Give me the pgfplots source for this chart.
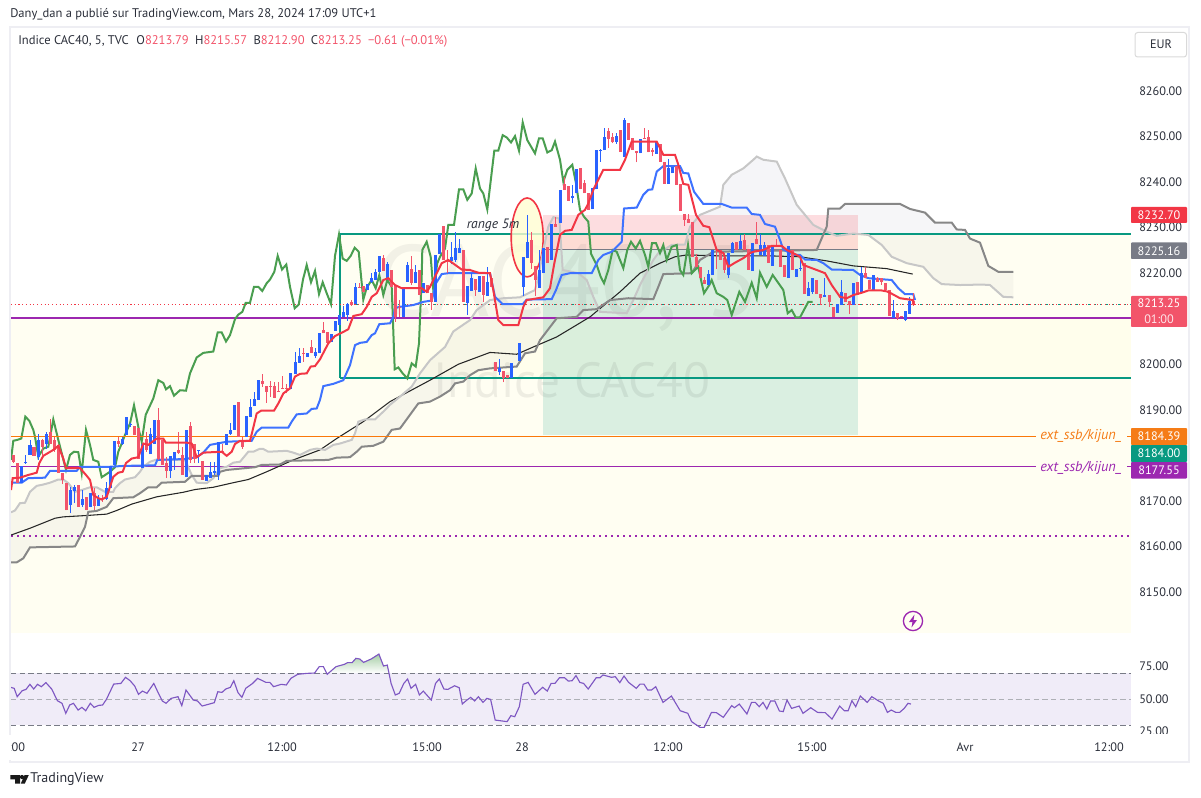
\documentclass[border=0pt]{standalone}
\usepackage{fontspec}
\setmainfont{PT Sans}
\usepackage{pgfplots}
\usepackage{pgfplotstable}
\pgfplotsset{compat=1.18}
\usepgfplotslibrary{fillbetween}
\definecolor{cblue}{HTML}{2962FF}
\definecolor{cred}{HTML}{F23645}
\definecolor{cbar}{HTML}{F2546A}
\definecolor{cgreen}{HTML}{4A9E50}
\definecolor{cteal}{HTML}{089981}
\definecolor{cpurple}{HTML}{9C27B0}
\definecolor{corange}{HTML}{F57C17}
\definecolor{ssbline}{RGB}{250,120,10}
\definecolor{cgray}{HTML}{787B86}
\definecolor{cframe}{HTML}{EEEEF3}
\definecolor{crsi}{HTML}{7E57C2}
\definecolor{clav}{HTML}{F0ECF8}
\definecolor{ctext}{HTML}{2A2E39}
\definecolor{cbeige}{HTML}{555070}
\definecolor{cslate}{HTML}{505078}
\pgfplotstableread{
x lo bl bh hi
21.3 8173.9 8173.9 8177.7 8177.7
25.3 8178.2 8178.3 8178.6 8180.1
30 8180.1 8180.1 8182.3 8183.4
38.3 8179 8179.7 8183.4 8184.8
46.7 8181.5 8182.6 8184.8 8185.2
70.3 8167.3 8169.1 8172.4 8173.1
74.3 8169.5 8172.2 8173.1 8173.5
82.3 8168.7 8169.1 8170.4 8172.4
90.3 8168.6 8168.7 8171.7 8171.8
98.3 8168.9 8168.9 8170.6 8171.3
106.3 8170.2 8170.4 8172.8 8174.2
110.3 8172.8 8172.8 8177.7 8177.7
114.3 8177.9 8177.9 8183.2 8183.2
122.3 8182.3 8182.6 8183.7 8184.1
126.3 8184.5 8184.5 8188.5 8188.5
130.3 8186.3 8186.7 8186.9 8187.2
142.3 8177.2 8177.2 8182.5 8182.5
150.3 8180.3 8180.3 8184.8 8185.9
154.3 8182.6 8182.6 8187.8 8187.8
170.3 8175 8176.6 8179.9 8179.9
174.3 8176.8 8179.1 8180.8 8180.8
186.3 8175.2 8175.2 8185.6 8185.6
198.3 8178.3 8181 8181.2 8181.2
206.3 8174.4 8174.4 8175.8 8175.8
210.3 8175.1 8175.1 8176.4 8178.6
214.3 8175.7 8176.1 8176.6 8178.6
218.3 8174.7 8175.7 8183 8183
226.3 8182.3 8182.3 8184.8 8184.8
230.3 8184.5 8184.8 8185.6 8187
234.3 8185.6 8185.6 8191 8191
246.3 8184.1 8184.1 8188.6 8188.6
250.3 8188.5 8188.5 8190.7 8192.3
254.3 8190.8 8190.8 8192.4 8194
258.3 8192.2 8192.2 8196.5 8196.5
290.3 8194.5 8194.5 8198 8198
295.3 8197.8 8197.8 8200.4 8202.6
299.3 8200.3 8200.3 8201.8 8203.5
307.3 8201.6 8201.6 8202.4 8202.4
315.3 8201.3 8201.8 8202.7 8203.5
319.3 8202.4 8202.4 8206.9 8206.9
331.3 8205 8205 8206.6 8206.6
335.3 8207.4 8207.4 8209.5 8209.5
339.3 8208.6 8208.6 8210.9 8210.9
343.3 8210.3 8210.3 8211.5 8212.8
347.3 8209.6 8210.8 8213.3 8213.5
355.3 8213.2 8213.2 8217 8217.8
367.3 8216.3 8216.3 8217.6 8217.6
371.3 8217.8 8218.1 8218.9 8220.1
375.3 8218.5 8218.5 8220.3 8221
379.3 8220.3 8220.3 8223.8 8223.8
387.3 8218.5 8218.9 8222 8222.5
403.3 8210.4 8210.4 8216.7 8216.7
407.3 8218.1 8218.1 8221.8 8222.5
415.3 8217.8 8217.8 8220.3 8221.8
423.3 8215.6 8215.6 8217.8 8217.8
435.3 8213.7 8213.7 8224 8224
439.3 8224.2 8224.2 8228.6 8228.6
451.3 8222 8222.7 8223.6 8226.9
455.3 8222.5 8222.9 8225.6 8229.1
459.3 8224.4 8224.4 8225.5 8227.6
467.3 8210.8 8213.4 8217.2 8217.2
471.3 8216.1 8216.1 8218.9 8220
479.3 8215.9 8215.9 8219.4 8219.4
487.3 8215 8215 8218.1 8221.4
499.3 8197.6 8198.2 8199.1 8201.1
511.3 8197 8197 8200.2 8200.2
519.3 8200.8 8200.8 8204.6 8204.6
523.3 8215 8217 8223.6 8223.6
527.3 8223.3 8223.3 8226.9 8232.8
539.3 8216.8 8216.8 8220.6 8225.1
543.3 8220 8220 8225.5 8225.5
551.3 8222.9 8222.9 8230.9 8230.9
560.3 8231 8231 8238.3 8238.3
572.3 8235.3 8236.4 8236.9 8239.4
576.3 8237.5 8237.5 8242.8 8242.8
592.3 8234 8234 8238.6 8238.6
596.3 8238.4 8238.4 8247 8247
600.3 8244.5 8246.8 8247 8247.2
604.3 8247 8247 8250 8251.8
616.3 8248.4 8248.7 8250.1 8250.7
624.3 8245.6 8245.6 8253.6 8254
640.3 8246.3 8246.3 8249.4 8249.4
656.3 8246.2 8246.2 8248.9 8248.9
668.7 8239.6 8239.6 8243 8245
672.7 8241.9 8241.9 8243.4 8243.4
708.7 8217.4 8217.4 8219.8 8220.8
712.7 8219.6 8219.6 8225.1 8225.1
728.7 8218.9 8219.5 8224.4 8224.4
732.7 8224.4 8224.4 8226.6 8226.9
740.7 8225.2 8225.2 8227 8228.4
752.7 8220.5 8220.5 8226.6 8226.6
760.7 8224 8224 8226.2 8228.6
764.7 8223.8 8223.8 8226.2 8226.9
772.7 8221.6 8221.6 8226 8226
788.7 8218.9 8218.9 8226 8226
796.7 8219.2 8219.2 8221 8221
800.7 8220.5 8221 8221.2 8223.6
808.7 8215 8215 8216.8 8218
812.7 8215.5 8215.9 8218.9 8218.9
824.7 8214.8 8214.8 8215.2 8218.9
837.3 8211.3 8211.3 8213.2 8213.2
841.3 8213 8213 8215.9 8218.5
853.3 8213 8213 8217.8 8217.8
861.3 8215.6 8215.6 8220.1 8221.4
873.3 8216.3 8216.3 8219.6 8219.6
893.3 8210.2 8210.2 8211.7 8214.1
905.3 8209.5 8209.7 8211.7 8211.7
909.3 8211 8211 8213.9 8214.8
}\tUp
\pgfplotstableread{
x lo bl bh hi
13.3 8178.3 8178.6 8180.1 8180.1
17.3 8173.9 8173.9 8178.3 8178.3
34 8179.9 8179.9 8181.9 8181.9
42.3 8180.1 8181.9 8183.4 8183.7
50.7 8182.6 8182.6 8185.2 8187.9
54.3 8180.8 8181.2 8183.4 8184.1
58.7 8176.1 8176.1 8182.3 8182.3
62.3 8173.7 8174.6 8176.1 8176.1
66.3 8167.9 8167.9 8173.9 8173.9
78.3 8168.7 8168.7 8173.5 8173.5
86.3 8167.9 8168 8170.8 8170.9
94.3 8168 8168.9 8171.7 8172.8
102.3 8169.8 8170.4 8170.6 8171.3
118.3 8181.9 8182.6 8183.2 8184.1
134.3 8184.5 8184.5 8186.5 8186.5
138.3 8179.3 8179.3 8186.1 8186.1
146.3 8180.8 8181.2 8183.7 8185.2
158.3 8179 8179.3 8187.8 8190.3
162.3 8177.9 8177.9 8183.4 8183.4
166.3 8175 8176.6 8178.3 8179.7
178.3 8180.4 8180.6 8181.2 8185.2
182.3 8175.7 8175.7 8180.1 8181.9
190.3 8178.3 8179 8186.5 8187.4
194.3 8178.3 8179.3 8182.6 8182.6
202.3 8174.6 8174.6 8178.8 8178.8
222.3 8180.8 8180.8 8181 8182.6
238.3 8184.1 8184.1 8191.8 8191.8
242.3 8181.5 8181.9 8183 8184.1
262.3 8195.1 8195.6 8196.3 8197.8
266.3 8191.6 8194 8195.2 8195.2
270.3 8192.9 8195 8195.2 8196.3
274.3 8192.5 8192.7 8195.2 8196.2
278.3 8194 8194 8194.2 8196.2
282.3 8194.5 8194.6 8194.8 8197.4
286.3 8193.6 8194.6 8194.8 8195.6
303.3 8200.6 8202.3 8202.5 8203.5
311.3 8202.4 8202.5 8203.7 8205.3
323.3 8206.8 8206.8 8207.6 8209.3
327.3 8204.7 8204.7 8207 8207
351.3 8212.8 8213 8213.7 8214.2
359.3 8216.8 8216.8 8217 8217.8
363.3 8215.9 8215.9 8217.2 8217.2
383.3 8220.5 8220.5 8223.4 8224
391.3 8217 8217 8220.8 8220.8
395.3 8209.3 8210.4 8217.4 8217.4
399.3 8210.3 8212.5 8212.6 8214.1
411.3 8217.4 8217.8 8221 8223.8
419.3 8215.2 8215.2 8220.7 8220.7
427.3 8215.7 8215.7 8217.4 8217.4
431.3 8212 8213.7 8215.7 8215.7
443.3 8222.9 8222.9 8230.4 8230.4
447.3 8220 8222.5 8222.9 8225.1
463.3 8213.7 8213.7 8225.1 8225.1
475.3 8215 8216.2 8218.7 8218.7
483.3 8213.7 8215.2 8219.4 8219.4
491.3 8217 8217 8218.9 8218.9
495.3 8198.6 8198.6 8200.6 8200.6
503.3 8196 8196.9 8198.6 8198.6
507.3 8196.9 8196.9 8197.6 8197.6
531.3 8221 8222.2 8227.3 8229.1
535.3 8215 8218.5 8221.6 8221.6
547.3 8222.2 8222.2 8225.8 8225.8
555.3 8230.2 8230.2 8230.9 8232.4
564.3 8238.3 8238.3 8239.5 8241.2
568.3 8235.9 8235.9 8239.1 8239.1
580.3 8238.4 8238.4 8243.2 8243.2
584.3 8237.5 8237.5 8239.7 8240.5
588.3 8233.9 8233.9 8237.5 8237.5
608.3 8247.4 8249.5 8251.3 8251.8
612.3 8248.5 8248.7 8249.8 8250.7
620.3 8246.7 8246.7 8251.4 8251.4
628.3 8249.2 8249.2 8252.9 8252.9
632.3 8247 8247 8249.6 8249.6
636.3 8244.3 8246.3 8246.9 8246.9
644.3 8249.5 8249.5 8249.7 8251.8
648.3 8246.5 8246.5 8249.8 8251.4
652.3 8245.7 8246.7 8247 8247.4
660.3 8244.5 8244.5 8248.4 8248.4
664.7 8239.6 8239.6 8244.5 8244.5
676.7 8239.4 8239.4 8243.5 8243.5
680.7 8233.7 8233.7 8239.6 8239.6
684.7 8230.4 8231.7 8233.1 8233.1
688.7 8231.1 8231.1 8232 8233
692.7 8223.6 8223.6 8231.2 8231.2
696.7 8221.3 8221.3 8223.6 8224.2
700.7 8218.9 8218.9 8221.4 8221.4
704.7 8217.6 8217.6 8218.5 8219.2
716.7 8221 8225 8225.2 8225.2
720.7 8222.9 8222.9 8225.1 8225.1
724.7 8220 8220.7 8223.3 8224.4
736.7 8225.1 8225.1 8226.9 8226.9
744.7 8225.1 8225.1 8227.3 8228.7
748.7 8220.7 8220.7 8225.2 8225.2
756.7 8226.3 8226.3 8227.4 8231.2
768.7 8222.2 8222.2 8226.2 8226.2
776.7 8225.8 8225.8 8226.2 8227.4
780.7 8221.4 8221.4 8225.1 8225.1
784.7 8219.2 8219.2 8221.8 8221.8
792.7 8220.7 8220.7 8225.1 8225.1
804.7 8215.4 8215.4 8222.2 8222.2
816.7 8215.4 8215.4 8218.6 8218.6
820.7 8213 8214.5 8215.4 8215.4
829.3 8212.6 8213.7 8215.2 8215.2
833.3 8210.4 8210.4 8212.5 8212.5
845.3 8213.7 8213.7 8215.6 8215.6
849.3 8211 8213 8213.9 8213.9
857.3 8215.3 8215.3 8218.1 8218.1
865.3 8218.9 8218.9 8220.1 8221.4
869.3 8216.5 8216.5 8218.5 8218.5
877.3 8218.1 8218.1 8219 8219.2
881.3 8217.4 8218.1 8218.9 8218.9
885.3 8216.3 8216.3 8217.8 8217.8
889.3 8210.7 8210.7 8216.3 8216.3
897.3 8209.7 8210.2 8211.2 8211.2
901.3 8210.3 8210.4 8210.6 8210.7
913.3 8212.9 8213.25 8213.79 8215.57
}\tDown
\pgfplotstableread{
x y
11 8179
13.3 8183.2
17.3 8183.4
21.3 8183.7
25.3 8188.5
29.3 8187.6
33.3 8185.6
35 8184.1
38.3 8179.7
43.3 8181.5
48.3 8181.9
53.3 8187.9
58.3 8183.4
66 8176.8
70 8180.1
74 8180.8
78.3 8180.7
81.7 8176.1
86 8185.6
90 8182.3
93.3 8179
98.3 8178.6
101.7 8175.2
110 8176.4
115 8177.4
118.3 8180.8
121.7 8182.6
125 8184.5
130 8187
134 8191
139.3 8185.2
141.7 8183
145.7 8188.9
153.3 8192.5
158.3 8196.5
163.3 8195.9
166 8194.5
170 8195.2
174 8193.1
180 8194.3
186 8194.2
190 8198
196.7 8201.5
203.3 8202.5
213.3 8202.8
217.7 8207
221.7 8207
226 8205
230 8206.4
235 8209.9
238.3 8210.9
242.3 8211.5
245.7 8213.5
250 8213.5
254 8217
258.3 8217
262.3 8216.1
266.7 8217.8
270 8218.6
274.3 8220.3
277.7 8223.8
282 8220.8
286.3 8221.9
290 8217
294.7 8212.3
298.7 8213.1
303 8218.6
306.7 8221.8
311 8218
315 8220.5
319 8215.4
322.7 8218
326.7 8215.6
331 8213.2
335 8223.8
339 8228.5
342.7 8223.2
346.7 8222.7
350.7 8223.8
354.7 8225.6
358.7 8224.7
363.3 8214.2
366.7 8216.8
371.7 8218.5
375.7 8216.7
379.3 8219.6
383.3 8215.2
387.3 8218.5
391.7 8217
394.7 8198.9
398.3 8199.3
402.7 8198
407.3 8196.9
411.7 8200.2
415.7 8199.5
419 8204.6
421.7 8219.2
422.3 8225.1
426.7 8226.9
430.7 8223.6
433.3 8216.3
437.3 8222.2
440 8223.6
445 8225.4
448.3 8230.6
454 8230.6
459 8238.4
463.3 8238.4
467.3 8236.1
471.7 8237.5
475.7 8243
480 8238.6
483.3 8237.5
487.3 8234
494.3 8246.9
498.3 8246.9
502.7 8250.3
506.7 8249.8
511 8248.7
515 8250.1
519 8246.9
522.7 8253.1
527.3 8249.2
535 8246.3
539 8249.6
542.7 8249.6
547.3 8246.5
551.7 8247
555 8248.9
560 8244.9
563.3 8240.1
567.3 8242.7
572.3 8243.8
576 8239.7
580 8233.9
584 8232.4
588.3 8231.3
591 8224.3
596.7 8221.8
600.7 8219.2
604 8217.8
608.3 8220.7
612.7 8225.1
616.7 8224.7
623.3 8221.1
627.3 8225.1
631 8226.9
635.7 8225.4
640 8227.1
645 8224
648.3 8221.4
652 8226.6
656 8226.6
660 8224.4
663.3 8226.2
666.7 8222.9
671.7 8225.8
676.7 8226.2
680 8220.7
683.3 8219.6
688 8226.2
691.7 8220
698.3 8221.4
701.7 8217.8
704 8215.6
709.3 8217.4
711.7 8218.5
716.7 8215.6
723.3 8214.8
727.3 8214.1
731.7 8210.8
739.3 8215.9
745 8213.7
751.7 8217.9
756.7 8214.5
760 8220.1
766.7 8217
772.7 8219.6
783.3 8216.3
787.7 8211.2
791.7 8211.9
795.7 8210.3
800 8210.3
808.3 8213.7
812.7 8213.7
}\tChikou
\pgfplotstableread{
x y
11 8172.4
12.7 8175
20 8175.1
28.3 8175.7
36.7 8176.2
39.3 8178.3
43.3 8179.9
53.3 8181.2
58.3 8182.1
63.3 8179.3
66 8177.2
80 8177.2
86 8175.7
90 8174.6
93.3 8171.3
98.3 8170.6
101.7 8170.3
106.7 8170.9
110 8173.1
113.3 8175.3
118.3 8176.2
122.7 8176.4
126 8178.3
131.7 8179.3
138.3 8179.6
143.3 8182.6
148.3 8182.3
156.7 8183.7
163.3 8183.7
165.7 8182.8
186.7 8182.8
191.7 8182.6
196.7 8179.6
203.3 8180.6
221.7 8180.8
226.7 8179.9
231.7 8180.8
235 8182.5
240 8183.2
250 8183.2
252.3 8185.2
256.7 8189.2
261 8189.8
274 8189.8
278.3 8191.4
283.3 8193.6
290 8194.7
295 8197.3
300 8197.9
306.7 8198
310.7 8199.5
315 8199.6
320 8201.1
328.3 8204.6
335 8206.2
343.3 8207.1
348.3 8207.7
353.3 8210.6
361.7 8211
366.7 8212.6
371.7 8214.8
376.7 8215.6
383.3 8218.5
388.3 8218.9
395 8217.4
401.7 8216.7
421.7 8216.7
426.7 8215.9
430 8217
436.7 8220
441.7 8222.2
448.3 8222.9
461.7 8220.8
470 8220.7
478.3 8220.1
490 8220
493.3 8216.3
498.3 8209.7
503.3 8208.6
518.3 8208.6
523.3 8212.6
526.7 8214.1
543.3 8214.7
550 8216.7
554 8221.8
560 8228.4
565 8229.3
571.7 8229.5
578.3 8232.8
585 8233.9
588.3 8235.3
593.3 8238.3
598.3 8240.5
603.3 8242.7
620 8242.7
625 8244.9
631.7 8248.9
656.7 8248.9
663.3 8246
675 8246
678.3 8243.8
683.3 8239.6
688.3 8239.4
696 8232.8
703.3 8230.4
709.3 8230.1
716.7 8225.1
723.3 8224.4
728.3 8221.4
735 8222.3
743.3 8223.3
750 8224.4
753.3 8224.7
763.3 8225.1
771.7 8226
781.7 8226
786.7 8225.1
793.3 8224.4
800 8223.6
803.3 8221.8
816.7 8220.7
825 8220
831.7 8217.4
840 8214.8
846.7 8214.5
853.3 8215.2
861.7 8215.7
868.3 8216.2
881.7 8216.2
886.7 8216
890 8215.7
900 8214.5
913 8214.1
913.5 8213
}\tTenkan
\pgfplotstableread{
x y
11 8174
21.7 8174
28.3 8175
45 8175.1
50 8176.6
76.7 8176.6
80 8177.5
110 8177.5
125 8177.7
155 8177.8
157.3 8179
185 8179.2
196.7 8179.6
203.3 8180.6
210 8182.3
226.7 8183
251.7 8183.2
256.7 8185.2
261.7 8186.1
288.3 8186.1
291.7 8187.4
296.7 8189
306.7 8189.2
311.7 8190.2
316.7 8190.3
320 8192.2
323.3 8195.2
333.3 8195.7
343.3 8196.5
350 8199.8
355 8204.2
360 8204.7
366.7 8204.9
371.7 8206.4
375 8206.8
379.3 8208.8
390 8209
393.3 8210.4
395 8212.3
399.3 8212.6
413.3 8213
423.3 8213.7
431.7 8214
436 8217.8
441.7 8219.8
448.3 8220
490 8220
495 8214.8
502.7 8213.2
522.7 8213.2
526.7 8214.2
551.7 8214.3
556 8216.3
561.7 8219.6
570 8220
591.7 8220
598.3 8222.9
603.3 8224
611.7 8224.7
621.7 8226.9
624 8234.2
636.7 8234.4
643.3 8237.2
648.3 8238.3
652.3 8238.4
656.7 8242.3
663.3 8243.5
680 8243.5
683.3 8242
688.3 8241.9
694 8237.9
703.3 8235.2
721.7 8235.2
731.7 8234.4
746.7 8234.4
751.7 8233
760 8232.8
765 8230.8
775 8230.2
780 8227.3
783.3 8225.2
793.3 8224
800 8224
805 8223
816.7 8222.9
823.3 8222.2
831.7 8220.8
853.3 8220.7
860 8219.6
868.3 8218.9
891.7 8218.5
898.3 8216.7
905 8215.4
913.3 8215.4
915 8214.1
}\tKijun
\pgfplotstableread{
x y
11 8167.5
15 8167.9
20 8169.5
25 8169.6
30 8172
36.7 8173.3
43.3 8173.6
50 8174
58.3 8174.7
63.3 8174.7
68.3 8173.9
75 8172
81.7 8172.4
90 8173
96.7 8173
105 8172
113.3 8172
115 8172.8
120 8173.9
125 8174.7
135 8175.2
140 8176.4
143.3 8177.5
150 8178.6
156.7 8179.1
163.3 8179
185 8179
191.7 8175.7
196.7 8174
206.7 8173.9
213.3 8175
216.7 8176.1
220 8177.2
226.7 8177.5
233.3 8178.4
240 8178.6
248.3 8180.8
253.3 8180.8
259.3 8181.4
263.3 8181.4
268.3 8180.8
286.7 8181
293.3 8180.6
300 8180.1
310 8181.2
316.7 8181.5
325 8181.2
333.3 8182.3
340 8182.6
351.7 8183.4
355 8184.8
358.3 8187.4
365 8187.9
375 8187.9
383.3 8189.6
390 8191.1
400 8192.9
411.7 8195.1
420 8198
430 8200.9
445 8203.8
453.3 8207.2
470 8209.7
476.7 8211.9
490 8214.1
503.3 8214.5
520 8214.7
535 8216.3
538.3 8219.2
543.3 8225.1
548.3 8230.2
553.3 8232.3
559.3 8232
562.7 8220.7
578.3 8220
586.7 8218.5
593.3 8214.8
600 8211.5
626.7 8211.2
633.3 8214.1
640 8217.4
653.3 8222.9
658.3 8224.4
671.7 8226.2
685 8226.3
690 8230.2
700 8232.8
720 8234.6
723.3 8239.4
731.7 8241.6
743.3 8243
753.3 8244.9
756.7 8245.6
763.3 8244.9
776.7 8244.5
785 8240.8
796.7 8235
813.3 8230.6
826.7 8229.1
836.7 8228.2
853.3 8228.7
868.3 8228.4
881.7 8226.2
891.7 8223.6
906.7 8222.2
923.3 8221.4
933.3 8218.9
941.7 8217.6
960 8217.4
981.7 8217.5
990 8217.4
1003.3 8214.8
1013.3 8214.7
}\tSpanA
\pgfplotstableread{
x y
11 8156.5
16.7 8156.5
23.3 8157.4
30 8159.8
75 8160
80 8162.1
85 8164.3
88.3 8167.6
96.7 8167.8
106.7 8168.7
113.3 8170.6
133.3 8170.8
140 8171.7
148.3 8173
156.7 8173
161.7 8174
185 8174.2
191.7 8175.5
218.3 8175.5
220 8176.4
226.7 8176.8
255 8177.4
261.7 8177.9
280 8178
286.7 8178.8
328.3 8179
336.7 8179.5
350 8179.6
356.7 8180.8
361.7 8181.9
373.3 8182.1
383.3 8183
391.7 8185.6
400 8185.9
418.3 8191.4
430 8191.8
440 8192.9
450 8194.3
455 8195.8
463.3 8196.2
470 8197.6
478.3 8198.7
490 8199.1
516.7 8199.5
525 8202.4
535 8202.8
540 8205.3
556.7 8210.1
576.7 8210.4
583.3 8211.9
596.7 8212.1
610 8214.1
628.3 8214.5
653.3 8214.3
658.3 8217
663.3 8219.8
691.7 8220
700 8222.9
713.3 8224.7
816.7 8225.1
826.7 8230.2
828.3 8234.2
840 8234.2
845 8235.2
900 8235.2
910 8234.1
925 8233.3
935 8231.1
951.7 8231.1
956.7 8229.6
965 8229.5
970 8227.6
980 8226.7
988.3 8221.6
998.3 8220.3
1013.3 8220.3
}\tSpanB
\pgfplotstableread{
x y
11 8162.5
30 8164
55 8166.2
63.3 8166.5
86.7 8166.8
106.7 8167.1
116.7 8167.9
131.7 8169.3
156.7 8170.9
183.3 8171.9
195 8172.5
213.3 8173
233.3 8174
248.3 8174.7
266.7 8176.4
293.3 8179
320 8181.2
336.7 8183.7
363.3 8187.4
390 8191.8
430 8196.5
458.3 8200
490 8202.6
516.7 8202.2
533.3 8203.8
556.7 8206
590 8210.4
620 8215.9
640 8220
660 8222.2
675 8223.6
686.7 8224
720 8223.8
770 8223.8
800 8223.6
826.7 8222.7
853.3 8221.6
886.7 8221
912.7 8219.8
}\tSma
\pgfplotstableread{
x y
10.7 59
14.2 58.2
17.2 51.8
22.2 56.4
26 57.4
29.9 61.3
33.7 57.7
37.5 61.3
41.3 59.5
45.9 62.6
51.7 57.7
57.4 48.7
62 46.7
65.8 39
69.7 45.4
73.5 46.7
78.1 41.5
81.9 43.6
85.7 41
90.3 46.7
94.1 43.6
98.7 45.1
102.6 45.4
106.4 49.7
113.7 61.5
120.9 62
125.5 66.7
130.1 64.1
134.7 60
138.5 53.6
142.4 56.1
147 54.4
153.8 62
157.7 55.6
162.3 48.5
166.1 46.7
171.1 50.5
178 51.8
181.8 44.9
186 56.9
193.3 49.2
197.5 48.5
202.1 44.6
209.7 46.2
214.3 47.2
217.8 55.6
222 55.1
225.8 57.7
230.4 59
233.8 64.1
238 54.9
241.9 51.3
245.7 58.2
252.6 62
257.6 65.9
266 62.8
269.8 62.8
273.6 59.5
281.3 61.3
286.3 60.8
290.9 65.9
297.7 69
306.2 69.7
314.6 70
319.2 74.9
323.4 74.9
327.2 69
336 74.9
344.4 76.7
347.5 78
352.1 78
355.9 81.3
359.7 80.8
363.6 78.2
371.2 80.8
378.9 84.6
383.5 75.4
387.3 76.1
391.1 62
395.3 53.1
399.2 54.4
403.8 62
407.6 65.4
411 58.2
415.6 61.3
419.4 53.1
423.3 56.1
431.3 49.2
435.5 62
439.3 65.4
443.9 57.7
447.8 57.4
454.6 60.2
459.2 58.7
462.3 46.2
466.9 49.2
470.7 51.3
474.6 48.5
478.4 51.8
483 47.4
486.8 50.5
490.6 49.7
495.2 33.8
507.1 32.6
510.9 37.2
514.7 36.4
519.3 44.1
523.1 61.3
528.1 62.8
535 53.6
542.7 59
547.3 56.1
551.1 62
554.9 62
559.5 66.4
564.5 66.4
568.3 63.8
572.1 64.1
576 68
579.8 62.8
583.6 62
588.2 57.7
596.2 66.4
600 66.4
603 68.5
611.5 66.7
615.3 67.2
619.8 62.6
624 67.7
628.6 62.8
636.3 58.2
640 61.5
643.9 61.5
647.7 56.9
651.5 56.9
655.7 59.5
663 47.4
671.4 52.3
680.2 41
687.8 39
691.6 32.6
700 28.2
704.2 28.2
711.5 39.7
716.4 39.5
723.3 35.9
731.7 44.9
734.4 43.3
739.3 46.1
746.9 38.5
751.5 47.4
755.3 47.4
759.2 44.1
763 47.4
766.8 42.3
770.6 48.5
774.8 48.5
779.4 40.8
783.2 40.3
787 49.2
791.6 42.8
799.2 44.6
803 39
810.7 43.3
817.6 39.7
825.2 39.5
832 34.6
839.7 44.6
844.3 41
848.1 41
851.9 48.7
855.7 44.1
860.3 52.3
867.2 47.4
871.8 51.8
878.6 48.5
883.2 46.7
887.4 39.7
891.2 41.5
895.8 39.7
899.6 39.7
904.2 42.8
908 46.7
911 46.1
}\tRsi
\begin{document}
\begin{tikzpicture}
\path (0,0) rectangle (900.75pt,597.75pt);
\begin{scope}[x=.75pt,y=-.75pt,shift={(0pt,597.75pt)}]
\draw[cframe,line width=1.9pt] (10,27) rectangle (1189,762);
\end{scope}
% main pane
\begin{axis}[at={(8.25pt,123pt)},anchor=south west,scale only axis,width=840pt,height=454.5pt,
  xmin=11,xmax=1131,ymin=8141,ymax=8274.05,clip=true,
  axis line style={draw=none},major tick length=0pt,xtick=\empty,
  ytick={8150,8160,8170,8190,8200,8220,8230,8240,8250,8260},
  yticklabel pos=right,
  yticklabel style={anchor=west,inner sep=0pt,xshift=6pt,font=\fontsize{9.2pt}{10pt}\selectfont,text=ctext,
    /pgf/number format/.cd,fixed,fixed zerofill,precision=2,1000 sep={},assume math mode=true}]
% backgrounds
\addplot[draw=none,fill=yellow,fill opacity=.05,forget plot] coordinates {(11,8141) (1131,8141) (1131,8210.2) (11,8210.2)} --cycle;
\addplot[draw=none,fill=yellow,fill opacity=.05,forget plot] coordinates {(339.5,8210.2) (1131,8210.2) (1131,8228.6) (339.5,8228.6)} --cycle;
\addplot[draw=none,fill=yellow,fill opacity=.025,forget plot] coordinates {(339.5,8197) (1131,8197) (1131,8210.2) (339.5,8210.2)} --cycle;
\addplot[draw=none,name path=pA,forget plot] table[x=x,y=y] \tSpanA;
\addplot[draw=none,name path=pB,forget plot] table[x=x,y=y] \tSpanB;
\addplot[fill=cbeige,fill opacity=.05,forget plot] fill between[of=pA and pB,soft clip={domain=11:650}];
\addplot[fill=cslate,fill opacity=.055,forget plot] fill between[of=pA and pB,soft clip={domain=650:826}];
\addplot[fill=cbeige,fill opacity=.05,forget plot] fill between[of=pA and pB,soft clip={domain=826:1014}];
% zones
\addplot[draw=none,fill=cred,fill opacity=.17,forget plot] coordinates {(543,8225.16) (858,8225.16) (858,8232.7) (543,8232.7)} --cycle;
\addplot[draw=none,fill=cteal,fill opacity=.15,forget plot] coordinates {(543,8184.39) (858,8184.39) (858,8225.16) (543,8225.16)} --cycle;
\addplot[cgray,line width=.8pt,forget plot] coordinates {(543,8225.16) (858,8225.16)};
% watermark
\node[text=black,opacity=.05,font=\fontsize{76pt}{80pt}\selectfont,anchor=base] at (axis cs:568,8210.4) {CAC40, 5};
\node[text=black,opacity=.065,font=\fontsize{37pt}{40pt}\selectfont,anchor=center] at (axis cs:572,8196.6) {Indice CAC40};
% levels
\addplot[cteal,line width=1.5pt,forget plot] coordinates {(339.5,8197) (339.5,8228.6) (1131,8228.6)};
\addplot[cteal,line width=1.5pt,forget plot] coordinates {(339.5,8197) (1131,8197)};
\addplot[cpurple,line width=1.5pt,forget plot] coordinates {(11,8210.2) (1131,8210.2)};
\addplot[cpurple,line width=.8pt,forget plot] coordinates {(11,8177.55) (1036,8177.55)};
\addplot[cpurple,line width=.8pt,forget plot] coordinates {(1127,8177.55) (1131,8177.55)};
\addplot[cpurple,line width=1.2pt,dash pattern=on 1.5pt off 3pt,forget plot] coordinates {(11,8162.3) (1131,8162.3)};
\addplot[cteal,line width=1.1pt,dash pattern=on 1.5pt off 3pt,forget plot] coordinates {(350,8213.1) (1131,8213.1)};
\addplot[cred,line width=.6pt,dash pattern=on .8pt off 2pt,forget plot] coordinates {(11,8213.25) (1131,8213.25)};
% ellipse and text
\draw[draw=cred,line width=1.2pt,fill=yellow!18!white,fill opacity=.8] (axis cs:527.2,8227.85) ellipse [x radius=12pt,y radius=29.6pt];
\node[font=\itshape\fontsize{10.2pt}{11pt}\selectfont,text=ctext] at (axis cs:493,8230.6) {range 5m};
% indicators
\addplot[black!85,line width=.8pt,forget plot] table[x=x,y=y] \tSma;
\addplot[black!22,line width=1.5pt,forget plot] table[x=x,y=y] \tSpanA;
\addplot[black!47,line width=1.5pt,forget plot] table[x=x,y=y] \tSpanB;
\addplot[cgreen,line width=1.5pt,forget plot] table[x=x,y=y] \tChikou;
\addplot[cblue!90!white,line width=1.5pt,forget plot] table[x=x,y=y] \tKijun;
\addplot[ssbline,line width=1.1pt,forget plot] coordinates {(11,8184.2) (1036,8184.2)};
\addplot[ssbline,line width=1.1pt,forget plot] coordinates {(1127,8184.2) (1131,8184.2)};
% candles
\addplot[draw=none,mark=none,forget plot,error bars/.cd,y dir=plus,y explicit,error mark=none,
  error bar style={draw=cblue,line width=.75pt,solid}] table[x=x,y=lo,y error plus expr=\thisrow{hi}-\thisrow{lo}] \tUp;
\addplot[draw=none,mark=none,forget plot,error bars/.cd,y dir=plus,y explicit,error mark=none,
  error bar style={draw=cbar,line width=.75pt,solid}] table[x=x,y=lo,y error plus expr=\thisrow{hi}-\thisrow{lo}] \tDown;
\addplot[draw=none,mark=none,forget plot,error bars/.cd,y dir=plus,y explicit,error mark=none,
  error bar style={draw=cblue,line width=2.4pt,solid}] table[x=x,y=bl,y error plus expr=\thisrow{bh}-\thisrow{bl}] \tUp;
\addplot[draw=none,mark=none,forget plot,error bars/.cd,y dir=plus,y explicit,error mark=none,
  error bar style={draw=cbar,line width=2.4pt,solid}] table[x=x,y=bl,y error plus expr=\thisrow{bh}-\thisrow{bl}] \tDown;
\addplot[cred,line width=1.5pt,forget plot] table[x=x,y=y] \tTenkan;
\end{axis}
% RSI pane
\begin{axis}[at={(8.25pt,48pt)},anchor=south west,scale only axis,width=840pt,height=75pt,
  xmin=11,xmax=1131,ymin=23.85,ymax=100.8,clip=true,
  axis line style={draw=none},major tick length=0pt,
  xtick={17,138,282,427,522,668,812,965,1109},
  xticklabels={:00,27,12:00,15:00,28,12:00,15:00,Avr,12:00},
  xticklabel style={anchor=center,yshift=-10.5pt,inner sep=0pt,font=\fontsize{9.2pt}{10pt}\selectfont,text=ctext},
  ytick={25,50,75},yticklabel pos=right,
  yticklabel style={anchor=west,inner sep=0pt,xshift=6pt,font=\fontsize{9.2pt}{10pt}\selectfont,text=ctext,
    /pgf/number format/.cd,fixed,fixed zerofill,precision=2,assume math mode=true}]
\addplot[draw=none,fill=clav,forget plot] coordinates {(11,30) (1131,30) (1131,70) (11,70)} --cycle;
\addplot[draw=none,top color=green!45!black!35!white,bottom color=white,forget plot] coordinates {(327.8,70) (336,74.9) (344.4,76.7) (347.5,78) (352.1,78) (355.9,81.3) (359.7,80.8) (363.6,78.2) (371.2,80.8) (378.9,84.6) (383.5,75.4) (387.3,76.1) (388.9,70)} --cycle;
\addplot[cgray,line width=.75pt,dash pattern=on 4pt off 2.5pt,forget plot] coordinates {(11,70) (1131,70)};
\addplot[cgray!60,line width=.75pt,dash pattern=on 4pt off 2.5pt,forget plot] coordinates {(11,50) (1131,50)};
\addplot[cgray,line width=.75pt,dash pattern=on 4pt off 2.5pt,forget plot] coordinates {(11,30) (1131,30)};
\addplot[crsi,line width=.85pt,forget plot] table[x=x,y=y] \tRsi;
\end{axis}
% overlay in pixel coordinates
\begin{scope}[x=.75pt,y=-.75pt,shift={(0pt,597.75pt)}]
\fill[white] (1132,733.5) rectangle (1186,738);
\fill[white] (0,735) rectangle (11,760);
\fill[yellow!5!white] (1037,429) rectangle (1126,443);
\fill[yellow!5!white] (1037,460) rectangle (1126,475);
\node[anchor=west,inner sep=0pt,font=\itshape\fontsize{10.7pt}{11pt}\selectfont,text=corange] at (1040,436) {ext\_ssb/kijun\_};
\node[anchor=west,inner sep=0pt,font=\itshape\fontsize{10.7pt}{11pt}\selectfont,text=cpurple] at (1040,467.5) {ext\_ssb/kijun\_};
\newcommand\flag[4]{\fill[#1,rounded corners=.6pt] (1131,#2) rectangle (1187,#3);\node[text=white,font=\fontsize{9.2pt}{10pt}\selectfont,inner sep=0pt] at (1159,{(#2+#3)/2}) {#4};}
\flag{cred}{207}{223}{8232.70}
\flag{cgray}{242.5}{259}{8225.16}
\flag{cbar}{296}{327}{}
\node[text=white,font=\fontsize{9.2pt}{9.2pt}\selectfont,inner sep=0pt] at (1159,303.5) {8213.25};
\node[text=white!85!cbar,font=\fontsize{9.2pt}{9.2pt}\selectfont,inner sep=0pt] at (1159,319.5) {01:00};
\flag{corange}{428}{445}{8184.39}
\flag{cteal}{445}{462}{8184.00}
\flag{cpurple}{462}{478.5}{8177.55}
% header and chrome
\node[anchor=west,inner sep=0pt,font=\fontsize{9.42pt}{10pt}\selectfont,text=ctext] at (10,14.5) {Dany\_dan a publié sur TradingView.com, Mars 28, 2024 17:09 UTC+1};
\node[anchor=west,inner sep=0pt,font=\fontsize{9.42pt}{10pt}\selectfont,text=ctext] at (18,41.5) {Indice CAC40, 5, TVC\hspace{.6em}O\textcolor{cbar}{8213.79}\hspace{.5em}H\textcolor{cbar}{8215.57}\hspace{.5em}B\textcolor{cbar}{8212.90}\hspace{.5em}C\textcolor{cbar}{8213.25}\hspace{.5em}\textcolor{cbar}{−0.61 (−0.01\%)}};
\draw[black!15,line width=.75pt,rounded corners=2pt] (1135,32.5) rectangle (1186.5,57);
\node[font=\fontsize{9.2pt}{10pt}\selectfont,text=ctext] at (1161,44.5) {EUR};
\fill[black!90] (10.3,775)--(20,775)--(20,783.5)--(15.2,783.5)--(15.2,779.3)--(10.3,779.3)--cycle;
\fill[black!90] (22,777) circle (2.1);
\fill[black!90] (24.6,775)--(28.8,775)--(24.8,783.5)--(20.8,783.5)--cycle;
\node[anchor=west,inner sep=0pt,font=\fontsize{10.5pt}{12pt}\selectfont,text=ctext] at (30,779.5) {TradingView};
\draw[cpurple,line width=1pt] (913,621) circle (9.6);
\fill[cpurple] (914.5,614.5)--(909,622)--(912.5,622)--(911.5,627.5)--(917,620)--(913.5,620)--cycle;
\end{scope}
\end{tikzpicture}
\end{document}
